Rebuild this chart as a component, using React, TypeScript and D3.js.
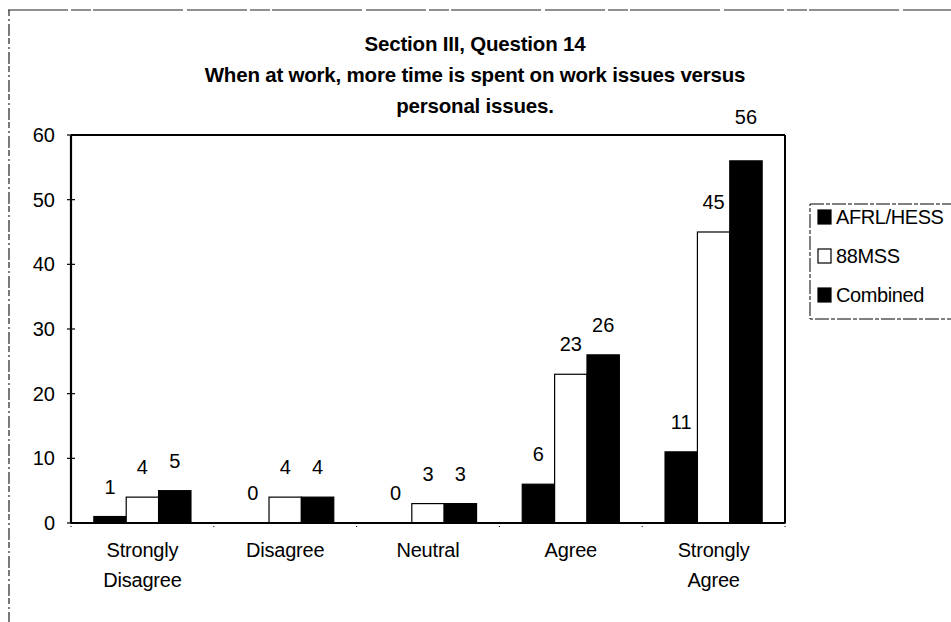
import React from "react";
import * as d3 from "d3";

const categories = ["Strongly|Disagree", "Disagree", "Neutral", "Agree", "Strongly|Agree"];
const seriesNames = ["AFRL/HESS", "88MSS", "Combined"];
const afrl = [1, 0, 0, 6, 11];
const mss88 = [4, 4, 3, 23, 45];
const combined = [5, 4, 3, 26, 56];
const yTicks = [0, 10, 20, 30, 40, 50, 60];
const titleLines = [
  "Section III, Question 14",
  "When at work, more time is spent on work issues versus",
  "personal issues.",
];

const W = 951;
const H = 622;
const M = { left: 71, right: 785, top: 135, bottom: 523 };
const FONT = "'Liberation Sans', Arial, sans-serif";
const fills = ["#000", "#fff", "#000"];

export default function App() {
  const series = [afrl, mss88, combined];
  const x0 = d3.scaleBand<string>().domain(categories).range([M.left, M.right]).paddingInner(0.32).paddingOuter(0.16);
  const x1 = d3.scaleBand<number>().domain([0, 1, 2]).range([0, x0.bandwidth()]);
  const y = d3.scaleLinear().domain([0, 60]).range([M.bottom, M.top]);
  const step = (M.right - M.left) / categories.length;

  return (
    <svg width={W} height={H} style={{ position: "absolute", left: 0, top: 0, background: "#fff" }} fontFamily={FONT}>
      <rect x={0} y={0} width={W} height={H} fill="#fff" />
      {/* outer frame */}
      <line x1={8} x2={W} y1={10} y2={10} stroke="#222" strokeWidth={1.2} strokeDasharray="60 3 20 2 90 4" />
      <line x1={9} x2={9} y1={10} y2={H} stroke="#222" strokeWidth={1.2} strokeDasharray="6 3 2 3 12 2" />

      {/* title */}
      {titleLines.map((t, i) => (
        <text key={i} x={475} y={51 + i * 31} textAnchor="middle" fontSize={20.5} fontWeight="bold" fill="#000" letterSpacing={-0.2}>
          {t}
        </text>
      ))}

      {/* bars */}
      {categories.map((c, ci) => (
        <g key={c} transform={`translate(${x0(c)},0)`}>
          {series.map((s, si) => {
            const v = s[ci];
            const top = y(v);
            let ly = top - 23;
            if (ly - 7 < M.top + 10 && ly - 7 > M.top - 22) ly = M.top - 11;
            return (
              <g key={si}>
                {v > 0 && (
                  <rect x={x1(si)} y={top} width={x1.bandwidth()} height={M.bottom - top} fill={fills[si]} stroke="#000" strokeWidth={1.2} />
                )}
                <text x={(x1(si) as number) + x1.bandwidth() / 2} y={ly} textAnchor="middle" fontSize={20} fill="#000">
                  {v}
                </text>
              </g>
            );
          })}
        </g>
      ))}

      {/* plot frame */}
      <line x1={M.left} x2={M.right} y1={M.top} y2={M.top} stroke="#000" strokeWidth={2} />
      <line x1={M.right} x2={M.right} y1={M.top} y2={M.bottom} stroke="#000" strokeWidth={2} />
      <line x1={M.left} x2={M.left} y1={M.top} y2={M.bottom} stroke="#000" strokeWidth={2.2} />
      <line x1={M.left} x2={M.right} y1={M.bottom} y2={M.bottom} stroke="#000" strokeWidth={2.2} />

      {/* y ticks */}
      {yTicks.map((t) => (
        <g key={t}>
          <line x1={M.left - 4} x2={M.left + 4} y1={y(t)} y2={y(t)} stroke="#000" strokeWidth={1.2} />
          <text x={55} y={y(t) + 7} textAnchor="end" fontSize={20} fill="#000">
            {t}
          </text>
        </g>
      ))}

      {/* x ticks */}
      {d3.range(categories.length + 1).map((i) => (
        <line key={i} x1={M.left + i * step} x2={M.left + i * step} y1={M.bottom} y2={M.bottom + 5} stroke="#000" strokeWidth={1} strokeDasharray="1 2" />
      ))}

      {/* category labels */}
      {categories.map((c) => {
        const cx = (x0(c) as number) + x0.bandwidth() / 2;
        return c.split("|").map((ln, li) => (
          <text key={c + li} x={cx} y={557 + li * 30} textAnchor="middle" fontSize={20} fill="#000" letterSpacing={-0.2}>
            {ln}
          </text>
        ));
      })}

      {/* legend */}
      <rect x={810} y={204} width={150} height={115} fill="none" stroke="#000" strokeWidth={1} strokeDasharray="14 2 4 2" />
      {seriesNames.map((n, i) => (
        <g key={n}>
          <rect x={818} y={210 + i * 39} width={13} height={14} fill={fills[i]} stroke="#000" strokeWidth={1.2} />
          <text x={836} y={224 + i * 39} fontSize={20} fill="#000" letterSpacing={-0.4}>
            {n}
          </text>
        </g>
      ))}
    </svg>
  );
}
